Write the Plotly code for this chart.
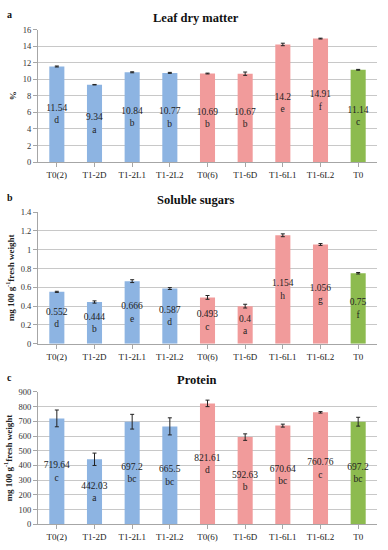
import plotly.graph_objects as go

categories = ["T0(2)", "T1-2D", "T1-2L1", "T1-2L2", "T0(6)", "T1-6D", "T1-6L1", "T1-6L2", "T0"]
bar_colors = ["#8DB4E2"] * 4 + ["#F19B9B"] * 4 + ["#8DBB4F"]

dry_matter = [11.54, 9.34, 10.84, 10.77, 10.69, 10.67, 14.2, 14.91, 11.14]
dry_err = [0.06, 0.03, 0.06, 0.06, 0.05, 0.2, 0.15, 0.05, 0.05]
dry_letters = ["d", "a", "b", "b", "b", "b", "e", "f", "c"]

sugars = [0.552, 0.444, 0.666, 0.587, 0.493, 0.4, 1.154, 1.056, 0.75]
sugars_err = [0.006, 0.012, 0.015, 0.01, 0.02, 0.02, 0.015, 0.01, 0.008]
sugars_letters = ["d", "b", "e", "d", "c", "a", "h", "g", "f"]

protein = [719.64, 442.03, 697.2, 665.5, 821.61, 592.63, 670.64, 760.76, 697.2]
protein_err = [57, 42, 50, 58, 22, 22, 10, 5, 30]
protein_letters = ["c", "a", "bc", "bc", "d", "b", "bc", "c", "bc"]

panels = [
    ("a", "Leaf dry matter", "%", dry_matter, dry_err, dry_letters, [0, 16], 2, [1 - 160 / 550, 1 - 25 / 550]),
    ("b", "Soluble sugars", "mg 100 g<sup>-1</sup>fresh weight", sugars, sugars_err, sugars_letters, [0, 1.4], 0.2, [1 - 345 / 550, 1 - 211 / 550]),
    ("c", "Protein", "mg 100 g<sup>-1</sup>fresh weight", protein, protein_err, protein_letters, [0, 900], 100, [1 - 529 / 550, 1 - 394 / 550]),
]

SERIF = "Liberation Serif, Times New Roman, serif"
fig = go.Figure()
annotations = []
xdom = [38 / 388, 377 / 388]

for i, (letter, title, ytitle, vals, errs, lets, yr, dt, ydom) in enumerate(panels):
    n = "" if i == 0 else str(i + 1)
    xa, ya = "x" + n, "y" + n
    texts = [f"{v:g}<br>{l}" for v, l in zip(vals, lets)]
    fig.add_trace(go.Bar(
        x=categories, y=vals, xaxis=xa, yaxis=ya,
        marker=dict(color=bar_colors, line=dict(width=0)),
        error_y=dict(type="data", array=errs, color="#222222", thickness=1, width=2),
        text=texts, textposition="inside", insidetextanchor="middle",
        constraintext="none", textangle=0,
        textfont=dict(family=SERIF, size=9.5, color="#222222"),
        showlegend=False, hoverinfo="x+y",
    ))
    fig.layout["xaxis" + n] = dict(
        domain=xdom, anchor=ya, showgrid=False, showline=True, linecolor="#A6A6A6",
        ticks="outside", ticklen=4, tickcolor="#A6A6A6",
        tickfont=dict(family=SERIF, size=9, color="#222222"), fixedrange=True,
    )
    fig.layout["yaxis" + n] = dict(
        domain=ydom, anchor=xa, range=yr, dtick=dt, showgrid=True, gridcolor="#C8C8C8",
        gridwidth=1, showline=True, linecolor="#A6A6A6", ticks="outside", ticklen=4,
        tickcolor="#A6A6A6", zeroline=False,
        tickfont=dict(family=SERIF, size=8.5, color="#333333"),
        title=dict(text=f"<b>{ytitle}</b>", font=dict(family=SERIF, size=9, color="#222222"), standoff=4),
        fixedrange=True,
    )
    annotations.append(dict(
        text=f"<b>{title}</b>", x=196 / 388, y=ydom[1] + 12 / 550, xref="paper", yref="paper",
        showarrow=False, xanchor="center", yanchor="middle",
        font=dict(family=SERIF, size=12.5, color="#111111"),
    ))
    annotations.append(dict(
        text=f"<b>{letter}</b>", x=5 / 388, y=ydom[1] + 15 / 550, xref="paper", yref="paper",
        showarrow=False, xanchor="left", yanchor="middle",
        font=dict(family=SERIF, size=10, color="#111111"),
    ))

fig.update_layout(
    width=388, height=550, margin=dict(l=0, r=0, t=0, b=0),
    paper_bgcolor="white", plot_bgcolor="white",
    bargap=0.6, annotations=annotations,
)

fig.write_html("out.html", config={"displayModeBar": False},
               post_script="document.body.style.margin='0';")
